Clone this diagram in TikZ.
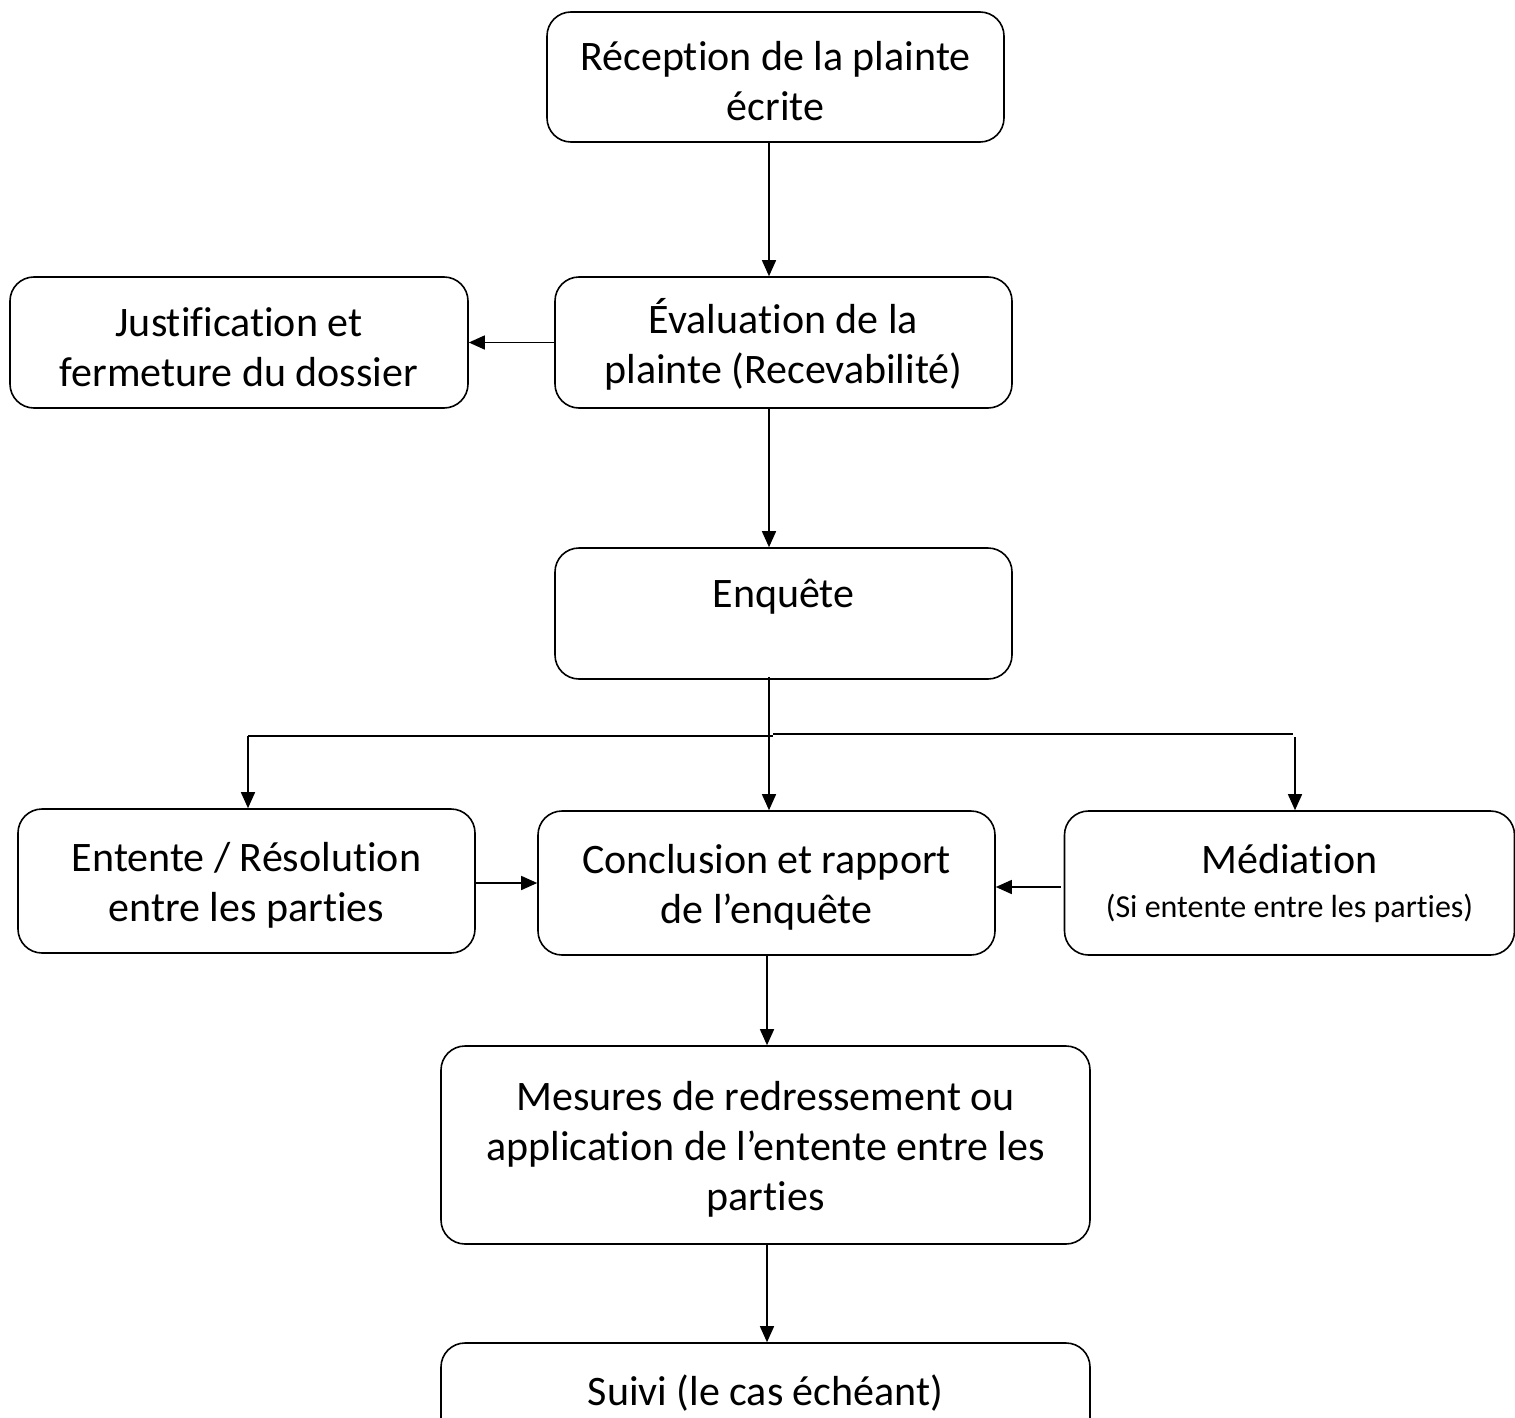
\documentclass[tikz,border=0pt]{standalone}
\usepackage{fontspec}
\setmainfont{Carlito}[Ligatures=NoCommon]
\usetikzlibrary{arrows.meta}
\tikzset{
  box/.style={draw, line width=1.6pt, rounded corners=24pt, inner sep=0pt,
    align=center, font=\fontsize{42}{50}\selectfont},
  arr/.style={line width=1.5pt, -{Triangle[length=16pt,width=14pt]}},
  ln/.style={line width=1.5pt}
}
\begin{document}
\begin{tikzpicture}[x=1pt,y=-1pt]
\useasboundingbox (0,0) rectangle (1515,1418);
\node[box, minimum width=457pt, minimum height=130pt] (rec) at (775.5,77) {\rule{0pt}{38pt}Réception de la plainte\\écrite};
\node[box, minimum width=457pt, minimum height=131pt] (eval) at (783.5,342.5) {\rule{0pt}{38pt}Évaluation de la\\plainte (Recevabilité)};
\node[box, minimum width=458pt, minimum height=131pt] (just) at (239,342.5) {\rule{0pt}{38pt}Justification et\\fermeture du dossier};
\node[box, minimum width=457pt, minimum height=131pt] (enq) at (783.5,613.5) {\rule{0pt}{38pt}Enquête\\~};
\node[box, minimum width=457pt, minimum height=144pt] (ent) at (246.5,881) {\rule{0pt}{38pt}Entente / Résolution\\entre les parties};
\node[box, minimum width=457pt, minimum height=144pt] (conc) at (766.5,883) {\rule{0pt}{38pt}Conclusion et rapport\\de l’enquête};
\node[box, minimum width=450pt, minimum height=144pt] (med) at (1289.5,883) {Médiation\\[-6pt]{\fontsize{32}{38}\selectfont (Si entente entre les parties)}};
\node[box, minimum width=649pt, minimum height=198pt] (mes) at (765.5,1145) {\rule{0pt}{38pt}Mesures de redressement ou\\application de l’entente entre les\\parties};
\node[box, minimum width=649pt, minimum height=136pt] (sui) at (765.5,1411) {\rule{0pt}{38pt}Suivi (le cas échéant)\\~};
% columns
\coordinate (xa) at (769,0);
\coordinate (xb) at (767,0);
\coordinate (jl) at (248,736);
\coordinate (jm) at (773,736);
\coordinate (jm2) at (773,734);
\coordinate (jr) at (1293,734);
\coordinate (jr2) at (1295,737);
% connectors
\draw[arr] (rec.south -| xa) -- (eval.north -| xa);
\draw[arr] (eval.west) -- (just.east);
\draw[arr] (eval.south -| xa) -- (enq.north -| xa);
\draw[arr] ([yshift=3pt]enq.south -| xa) -- (conc.north -| xa);
\draw[ln] (jl) -- (jm);
\draw[ln] (jm2) -- (jr);
\draw[arr] (jl) -- (ent.north -| jl);
\draw[arr] (jr2) -- (med.north -| jr2);
\draw[arr] ([yshift=-2pt]ent.east) -- ([yshift=-2pt]conc.west |- ent.east);
\draw[arr] ([xshift=-3pt,yshift=-4pt]med.west) -- ([yshift=-4pt]conc.east);
\draw[arr] (conc.south -| xb) -- (mes.north -| xb);
\draw[arr] (mes.south -| xb) -- (sui.north -| xb);
\end{tikzpicture}
\end{document}
